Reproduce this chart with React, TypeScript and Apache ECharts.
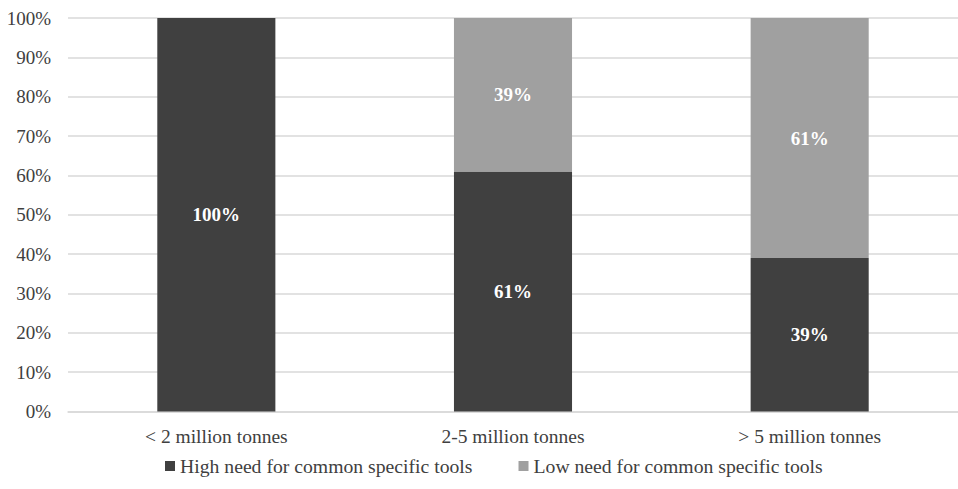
import React, { useEffect, useRef } from "react";
import * as echarts from "echarts";

const categories = ["< 2 million tonnes", "2-5 million tonnes", "> 5 million tonnes"];
const highNeed = [100, 61, 39];
const lowNeed = [0, 39, 61];
const seriesNames = ["High need for common specific tools", "Low need for common specific tools"];

export default function App() {
  const ref = useRef<HTMLDivElement>(null);
  useEffect(() => {
    if (!ref.current) return;
    const chart = echarts.init(ref.current, null, { renderer: "svg" });
    const font = "'Liberation Serif', 'Times New Roman', serif";
    const label = {
      show: true,
      position: "inside",
      color: "#ffffff",
      fontWeight: "bold",
      fontFamily: font,
      fontSize: 19,
      formatter: (p: any) => (p.value > 0 ? p.value + "%" : ""),
    };
    chart.setOption({
      animation: false,
      grid: { left: 68, width: 897, top: 18, height: 393.5, containLabel: false },
      legend: {
        left: 160,
        top: 451,
        itemWidth: 10,
        itemHeight: 10,
        itemGap: 46,
        icon: "rect",
        textStyle: { fontFamily: font, fontSize: 19.7, color: "#404040" },
        data: seriesNames,
      },
      xAxis: {
        type: "category",
        data: categories,
        axisLine: { show: true, lineStyle: { color: "#d9d9d9", width: 1.5 } },
        axisTick: { show: false },
        axisLabel: { fontFamily: font, fontSize: 19.5, color: "#404040", margin: 15 },
      },
      yAxis: {
        type: "value",
        min: 0,
        max: 100,
        interval: 10,
        axisLine: { show: false },
        axisTick: { show: false },
        splitLine: { lineStyle: { color: "#d9d9d9", width: 1.5 } },
        axisLabel: { fontFamily: font, fontSize: 19, color: "#404040", margin: 17, formatter: "{value}%" },
      },
      series: [
        {
          name: seriesNames[0],
          type: "bar",
          stack: "total",
          data: highNeed,
          barWidth: "39.8%",
          itemStyle: { color: "#404040" },
          label,
        },
        {
          name: seriesNames[1],
          type: "bar",
          stack: "total",
          data: lowNeed,
          itemStyle: { color: "#a0a0a0" },
          label,
        },
      ],
    });
    return () => chart.dispose();
  }, []);
  return <div ref={ref} style={{ width: 958, height: 489, position: "absolute", left: 0, top: 0 }} />;
}
